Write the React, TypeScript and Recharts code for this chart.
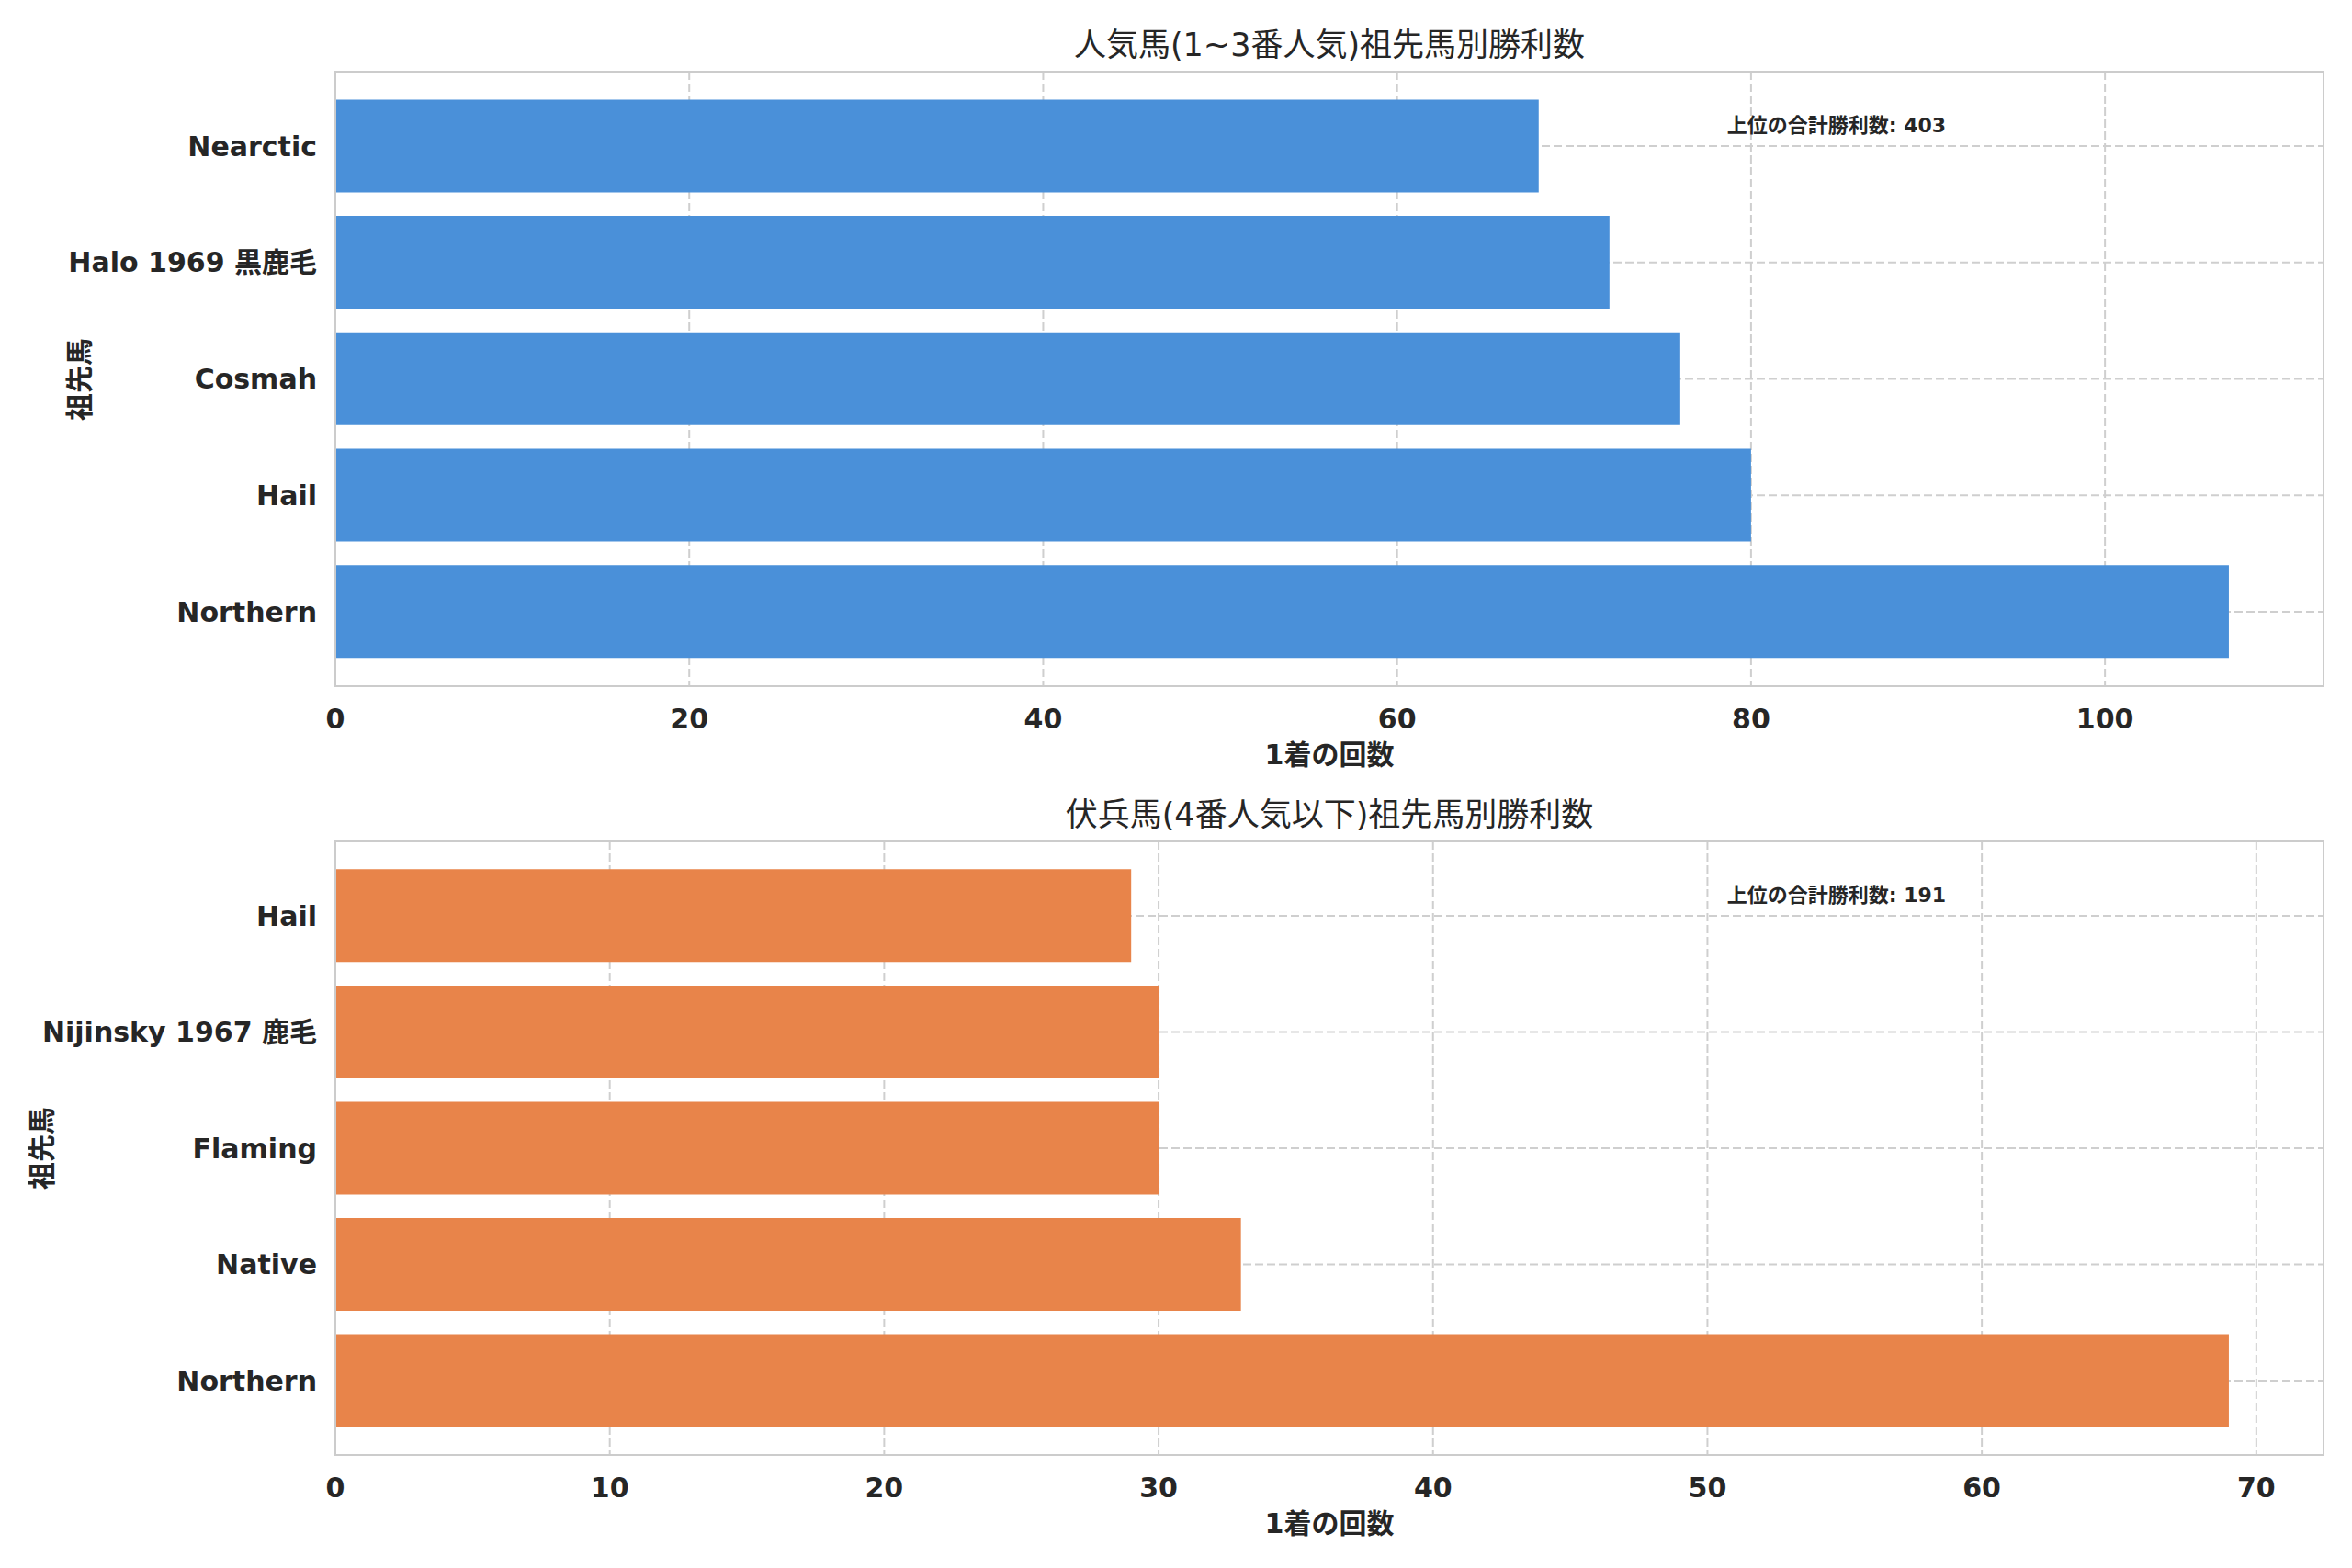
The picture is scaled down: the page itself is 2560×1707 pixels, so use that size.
import { Bar, BarChart, CartesianGrid, XAxis, YAxis } from "recharts";

// 人気馬 (1~3番人気)
const topNames = ["Nearctic", "Halo 1969 黒鹿毛", "Cosmah", "Hail", "Northern"];
const topWins = [68, 72, 76, 80, 107];
const topTicks = [0, 20, 40, 60, 80, 100];

// 伏兵馬 (4番人気以下)
const bottomNames = ["Hail", "Nijinsky 1967 鹿毛", "Flaming", "Native", "Northern"];
const bottomWins = [29, 30, 30, 33, 69];
const bottomTicks = [0, 10, 20, 30, 40, 50, 60, 70];

const FONT = "'DejaVu Sans', 'Noto Sans CJK JP', sans-serif";
const INK = "#262626";
const W = 2560;
const PLOT_LEFT = 365;
const PLOT_RIGHT = 2529;

interface PanelProps {
  names: string[];
  wins: number[];
  ticks: number[];
  color: string;
  title: string;
  note: string;
  top: number; // page offset of this chart
  height: number;
  plotTop: number; // within chart
  plotBottom: number; // within chart
  titleY: number;
  yLabelX: number;
}

function Panel(p: PanelProps) {
  const data = p.names.map((name, i) => ({ name, wins: p.wins[i] }));
  const maxV = Math.max(...p.wins);
  const domainMax = maxV * 1.05;
  const xAxisH = 60;
  const plotH = p.plotBottom - p.plotTop;
  const unit = plotH / (p.names.length + 0.28);
  const pad = unit * 0.14;
  const plotW = PLOT_RIGHT - PLOT_LEFT;
  const midX = (PLOT_LEFT + PLOT_RIGHT) / 2;
  const midY = (p.plotTop + p.plotBottom) / 2;

  return (
    <div style={{ position: "absolute", left: 0, top: p.top, width: W, height: p.height }}>
      <BarChart
        width={W}
        height={p.height}
        data={data}
        layout="vertical"
        barCategoryGap="10%"
        margin={{
          top: p.plotTop,
          right: W - PLOT_RIGHT,
          left: 0,
          bottom: p.height - p.plotBottom - xAxisH,
        }}
      >
        <CartesianGrid stroke="#cfcfcf" strokeWidth={2} strokeDasharray="9 4" />
        <XAxis
          type="number"
          domain={[0, domainMax]}
          ticks={p.ticks}
          height={xAxisH}
          axisLine={false}
          tickLine={false}
          tickSize={0}
          tickMargin={25}
          tick={{ fontSize: 30, fontWeight: "bold", fill: INK, fontFamily: FONT }}
        />
        <YAxis
          type="category"
          dataKey="name"
          width={PLOT_LEFT}
          padding={{ top: pad, bottom: pad }}
          axisLine={false}
          tickLine={false}
          tickSize={0}
          tickMargin={20}
          interval={0}
          tick={{ fontSize: 30, fontWeight: "bold", fill: INK, fontFamily: FONT }}
        />
        <Bar dataKey="wins" fill={p.color} isAnimationActive={false} />
      </BarChart>

      {/* axes frame */}
      <div
        style={{
          position: "absolute",
          left: PLOT_LEFT - 1,
          top: p.plotTop - 1,
          width: plotW + 2,
          height: plotH + 2,
          border: "2px solid #cccccc",
          boxSizing: "border-box",
          pointerEvents: "none",
        }}
      />

      {/* title */}
      <div
        style={{
          position: "absolute",
          left: midX - 800,
          width: 1600,
          top: p.titleY - 22,
          height: 44,
          lineHeight: "44px",
          textAlign: "center",
          fontFamily: FONT,
          fontSize: 35,
          color: INK,
          whiteSpace: "nowrap",
        }}
      >
        {p.title}
      </div>

      {/* x label */}
      <div
        style={{
          position: "absolute",
          left: midX - 400,
          width: 800,
          top: p.plotBottom + 75 - 20,
          height: 40,
          lineHeight: "40px",
          textAlign: "center",
          fontFamily: FONT,
          fontSize: 30,
          fontWeight: "bold",
          color: INK,
        }}
      >
        1着の回数
      </div>

      {/* y label */}
      <div
        style={{
          position: "absolute",
          left: p.yLabelX - 200,
          top: midY - 20,
          width: 400,
          height: 40,
          lineHeight: "40px",
          textAlign: "center",
          fontFamily: FONT,
          fontSize: 30,
          fontWeight: "bold",
          color: INK,
          transform: "rotate(-90deg)",
        }}
      >
        祖先馬
      </div>

      {/* total note */}
      <div
        style={{
          position: "absolute",
          left: PLOT_LEFT + 0.7 * plotW,
          top: p.plotTop + 59 - 15,
          height: 30,
          lineHeight: "30px",
          fontFamily: FONT,
          fontSize: 22,
          fontWeight: "bold",
          color: INK,
          whiteSpace: "nowrap",
        }}
      >
        {p.note}
      </div>
    </div>
  );
}

export default function App() {
  const topTotal = topWins.reduce((a, b) => a + b, 0);
  const bottomTotal = bottomWins.reduce((a, b) => a + b, 0);
  return (
    <div
      style={{
        position: "absolute",
        left: 0,
        top: 0,
        width: W,
        height: 1707,
        background: "#ffffff",
        overflow: "hidden",
      }}
    >
      <Panel
        names={topNames}
        wins={topWins}
        ticks={topTicks}
        color="#4a90d9"
        title="人気馬(1~3番人気)祖先馬別勝利数"
        note={`上位の合計勝利数: ${topTotal}`}
        top={0}
        height={850}
        plotTop={78}
        plotBottom={747}
        titleY={49}
        yLabelX={87}
      />
      <Panel
        names={bottomNames}
        wins={bottomWins}
        ticks={bottomTicks}
        color="#e8844a"
        title="伏兵馬(4番人気以下)祖先馬別勝利数"
        note={`上位の合計勝利数: ${bottomTotal}`}
        top={850}
        height={857}
        plotTop={66}
        plotBottom={734}
        titleY={37}
        yLabelX={46}
      />
    </div>
  );
}
